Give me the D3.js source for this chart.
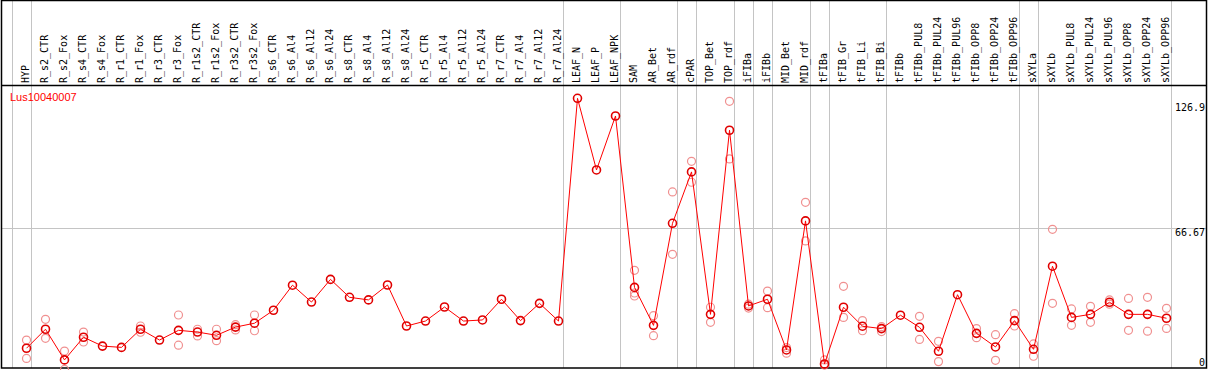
<!DOCTYPE html>
<html>
<head>
<meta charset="utf-8">
<script src="https://cdn.jsdelivr.net/npm/d3@7"></script>
<style>
  body { margin: 0; background: #fff; }
  text { font-family: "DejaVu Sans Mono", monospace; font-size: 10px; }
</style>
</head>
<body>
<div id="chart"></div>
<script>
// sample names (columns)
const samples = ["HYP",
  "R_s2_CTR","R_s2_Fox","R_s4_CTR","R_s4_Fox","R_r1_CTR","R_r1_Fox","R_r3_CTR","R_r3_Fox",
  "R_r1s2_CTR","R_r1s2_Fox","R_r3s2_CTR","R_r3s2_Fox",
  "R_s6_CTR","R_s6_Al4","R_s6_Al12","R_s6_Al24","R_s8_CTR","R_s8_Al4","R_s8_Al12","R_s8_Al24",
  "R_r5_CTR","R_r5_Al4","R_r5_Al12","R_r5_Al24","R_r7_CTR","R_r7_Al4","R_r7_Al12","R_r7_Al24",
  "LEAF_N","LEAF_P","LEAF_NPK","SAM","AR_Bet","AR_rdf","cPAR","TOP_Bet","TOP_rdf",
  "iFIBa","iFIBb","MID_Bet","MID_rdf","tFIBa","tFIB_Gr","tFIB_Li","tFIB_Bi","tFIBb",
  "tFIBb_PUL8","tFIBb_PUL24","tFIBb_PUL96","tFIBb_OPP8","tFIBb_OPP24","tFIBb_OPP96",
  "sXYLa","sXYLb","sXYLb_PUL8","sXYLb_PUL24","sXYLb_PUL96","sXYLb_OPP8","sXYLb_OPP24","sXYLb_OPP96"];

// mean expression per sample
const means = [11.1,
  19.9,5.7,16.2,12.1,11.5,19.9,14.9,19.4,
  18.6,17.1,20.9,22.7,
  28.7,40.3,32.5,43.0,34.7,33.5,40.4,21.4,
  23.7,30.2,23.7,24.2,33.8,23.9,31.9,23.7,
  126.9,93.7,118.7,39.3,21.7,69.0,92.8,26.8,112.1,
  30.7,33.8,10.3,70.1,3.8,30.1,21.3,20.2,26.4,
  20.8,9.7,35.9,18.0,11.7,23.9,
  10.6,49.1,25.4,26.8,32.4,26.8,26.8,25.0];

// replicate values per sample
const reps = [[14.9,6.4],
  [24.5,15.7],[9.8,1.3],[18.6,14.0],[],[],[21.4,18.5],[],[26.5,12.5],
  [19.9,16.8],[19.9,14.6],[22.0,19.6],[26.5,19.2],
  [],[],[],[],[],[],[],[],
  [],[],[],[],[],[],[],[],
  [],[],[],[47.2,36.7,35.3],[26.2,16.9],[83.5,54.6],[97.7,88.0],[30.1,23.1],[125.5,98.8],
  [29.7,31.5],[37.6,29.9],[11.4,8.8],[78.7,60.8],[5.7,3.3],[39.8,25.4],[23.9,19.2],[21.1,18.8],[],
  [25.9,15.2],[14.3,4.9],[],[20.2,16.0],[17.4,5.5],[27.1,21.4],
  [13.1,7.4],[66.2,31.9],[29.3,21.7],[30.5,23.1],[33.5,31.5],[34.2,19.4],[34.7,19.0],[29.6,20.3]];

// group boundaries: line drawn after these samples
const groupEnds = ["HYP","R_r7_Al24","LEAF_NPK","AR_rdf","cPAR","TOP_rdf","iFIBa","iFIBb",
  "MID_rdf","tFIBa","tFIB_Bi","tFIBb_OPP96","sXYLa","sXYLb_OPP96"];

const yTicks = [0, 66.67, 126.9];
const geneName = "Lus10040007";

const width = 1209, height = 370;
const headerBottom = 85, plotBottom = 368;
const left = 1, right = 1207;

const svg = d3.select("#chart").append("svg")
    .attr("width", width)
    .attr("height", height);

const x = d3.scalePoint()
    .domain(samples)
    .range([26.5, 1166.5]);

const y = d3.scaleLinear()
    .domain([0, 126.9])
    .range([372.2, 98.3]);

// vertical group separators
const sepX = [x(samples[0]) - x.step()].concat(groupEnds.map(s => x(s)))
    .map(v => Math.round(v + 4) + 0.5);
svg.selectAll(".sep")
    .data(sepX)
    .join("line")
    .attr("x1", d => d).attr("x2", d => d)
    .attr("y1", 0).attr("y2", plotBottom)
    .attr("stroke", "#c4c4c4");

// horizontal grid at mid tick
svg.append("line")
    .attr("x1", left).attr("x2", right)
    .attr("y1", Math.round(y(yTicks[1])) + 0.5)
    .attr("y2", Math.round(y(yTicks[1])) + 0.5)
    .attr("stroke", "#c4c4c4");

// borders
svg.append("rect")
    .attr("x", left + 0.5).attr("y", 0.5)
    .attr("width", right - left - 1).attr("height", plotBottom - 0.5)
    .attr("fill", "none").attr("stroke", "#000").attr("stroke-width", 1.5);
svg.append("line")
    .attr("x1", left).attr("x2", right)
    .attr("y1", headerBottom + 0.5).attr("y2", headerBottom + 0.5)
    .attr("stroke", "#000").attr("stroke-width", 1.5);

// rotated sample labels
svg.selectAll(".lab")
    .data(samples)
    .join("text")
    .attr("transform", d => `translate(${x(d) - 1},83) rotate(-90)`)
    .attr("dy", "0.35em")
    .attr("fill", "#000")
    .text(d => d);

// y tick labels
svg.selectAll(".ytick")
    .data(yTicks)
    .join("text")
    .attr("x", 1205)
    .attr("y", (d, i) => i == 0 ? 366 : i == 1 ? y(d) + 8 : 111)
    .attr("text-anchor", "end")
    .text(d => d);

// gene name
svg.append("text")
    .attr("x", 10)
    .attr("y", 101)
    .style("font-family", "'Liberation Sans', Arial, sans-serif")
    .style("font-size", "11px")
    .attr("fill", "red")
    .text(geneName);

// replicate circles
const repPts = [];
reps.forEach((r, i) => r.forEach(v => repPts.push({s: samples[i], v: v})));
svg.selectAll(".rep")
    .data(repPts)
    .join("circle")
    .attr("cx", d => x(d.s))
    .attr("cy", d => y(d.v))
    .attr("r", 4)
    .attr("fill", "none")
    .attr("stroke", "#f09090")
    .attr("stroke-width", 1.2);

// mean line
const line = d3.line()
    .x((d, i) => x(samples[i]))
    .y(d => y(d));
svg.append("path")
    .datum(means)
    .attr("fill", "none")
    .attr("stroke", "red")
    .attr("stroke-width", 1)
    .attr("d", line);

// mean circles
svg.selectAll(".mean")
    .data(means)
    .join("circle")
    .attr("cx", (d, i) => x(samples[i]))
    .attr("cy", d => y(d))
    .attr("r", 4)
    .attr("fill", "none")
    .attr("stroke", "#e00000")
    .attr("stroke-width", 1.6);
</script>
</body>
</html>
